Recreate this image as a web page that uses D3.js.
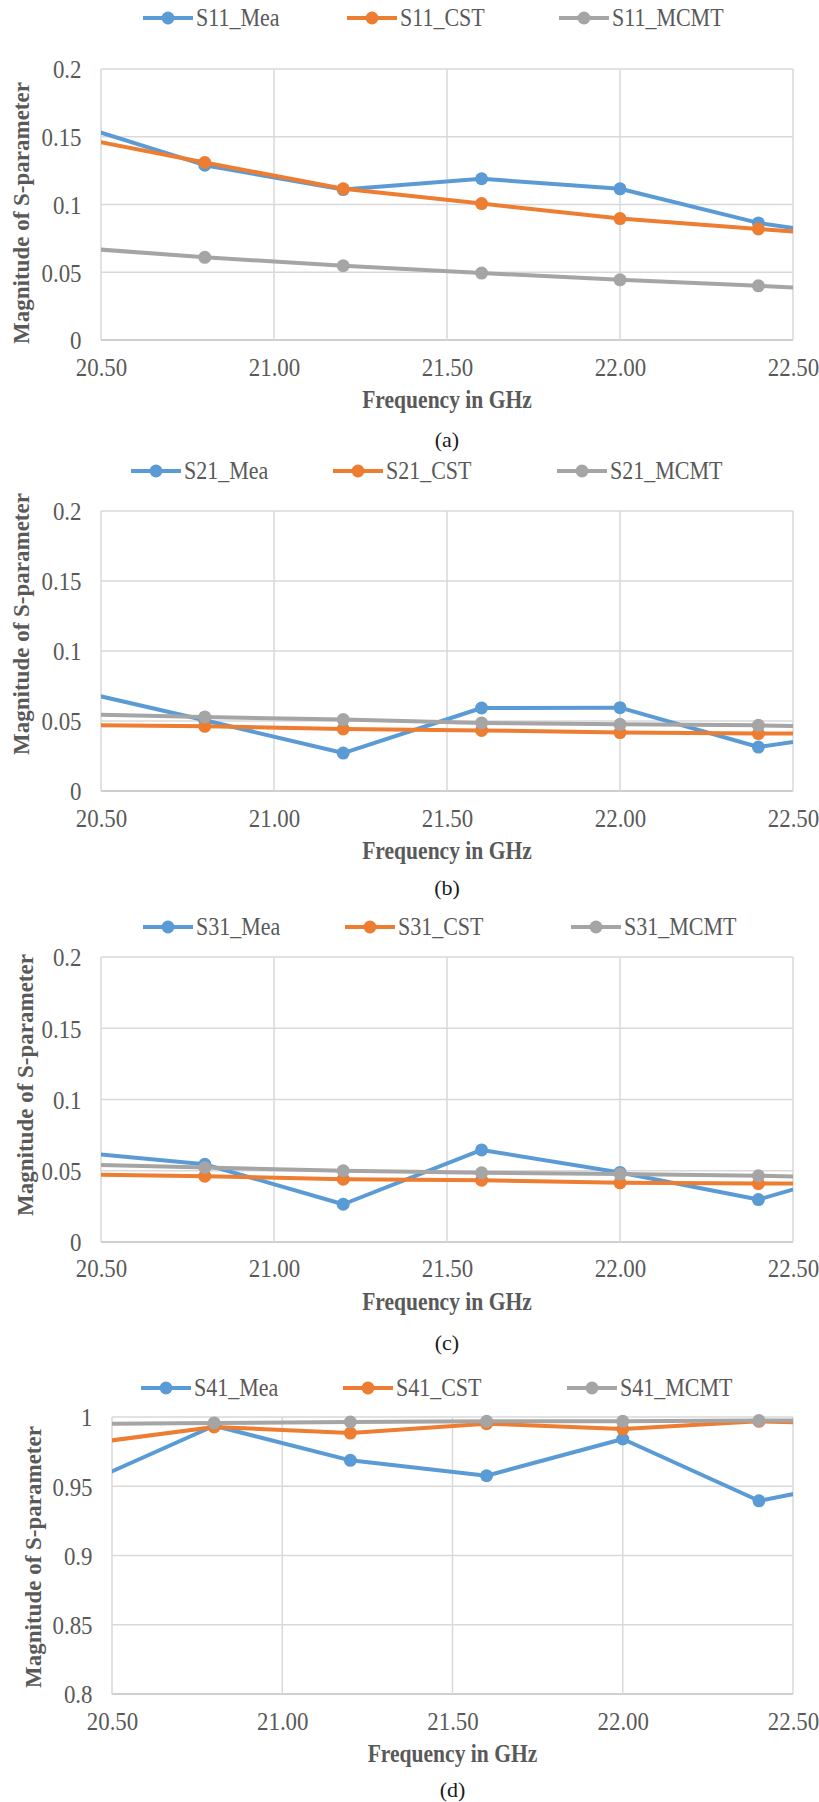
<!DOCTYPE html>
<html>
  <head>
    <meta charset="utf-8">
    <script src="https://d3js.org/d3.v7.min.js"></script>
    <style>
      body { margin: 0; background: #fff; }
      svg { display: block; }
    </style>
  </head>
  <body>
    <script type="text/javascript">

      // frequency points (GHz). first and last fall outside the axis and get clipped
      var freq = [20.4, 20.8, 21.2, 21.6, 22.0, 22.4, 22.8];
      var xTicks = [20.5, 21.0, 21.5, 22.0, 22.5];
      var yTicksLow = [0, 0.05, 0.1, 0.15, 0.2];
      var yTicksS41 = [0.8, 0.85, 0.9, 0.95, 1];
      var seriesNames = ["Mea", "CST", "MCMT"];
      var captions = ["(a)", "(b)", "(c)", "(d)"];
      var params = ["S11", "S21", "S31", "S41"];

      var s11Mea  = [0.161, 0.129, 0.111, 0.119, 0.1116, 0.0864, 0.0716];
      var s11Cst  = [0.151, 0.131, 0.1116, 0.1007, 0.0896, 0.082, 0.074];
      var s11Mcmt = [0.0686, 0.061, 0.0548, 0.0494, 0.0444, 0.040, 0.0352];

      var s21Mea  = [0.0733, 0.0505, 0.0271, 0.0593, 0.0595, 0.0314, 0.0458];
      var s21Cst  = [0.0472, 0.0462, 0.0443, 0.0433, 0.0417, 0.041, 0.041];
      var s21Mcmt = [0.055, 0.0529, 0.051, 0.0486, 0.0476, 0.0469, 0.0449];

      var s31Mea  = [0.0638, 0.0545, 0.0265, 0.0646, 0.0488, 0.0298, 0.058];
      var s31Cst  = [0.0475, 0.0462, 0.0441, 0.0434, 0.0415, 0.041, 0.041];
      var s31Mcmt = [0.0546, 0.0523, 0.050, 0.0486, 0.0477, 0.0465, 0.0445];

      var s41Mea  = [0.9497, 0.9937, 0.9687, 0.9576, 0.9841, 0.9395, 0.9587];
      var s41Cst  = [0.9799, 0.9928, 0.9884, 0.9952, 0.9913, 0.9969, 0.9941];
      var s41Mcmt = [0.995, 0.9957, 0.9964, 0.9969, 0.9969, 0.9974, 0.9974];

      var colors = ["#5b9bd5", "#ed7d31", "#a5a5a5"];

      // layout of each panel on the page
      var panels = [
        {values: [s11Mea, s11Cst, s11Mcmt], yTicks: yTicksLow,
         l: 101, r: 793, t: 69, b: 340, legY: 18, legX: [168, 372, 584],
         tickY: 367, xTitleY: 401, capY: 440, yTitleX: 21, yTitleY: 213},
        {values: [s21Mea, s21Cst, s21Mcmt], yTicks: yTicksLow,
         l: 101, r: 793, t: 511, b: 791, legY: 471, legX: [156, 358, 582],
         tickY: 818, xTitleY: 852, capY: 888, yTitleX: 21, yTitleY: 624},
        {values: [s31Mea, s31Cst, s31Mcmt], yTicks: yTicksLow,
         l: 101, r: 793, t: 957, b: 1242, legY: 927, legX: [168, 370, 596],
         tickY: 1268, xTitleY: 1303, capY: 1343, yTitleX: 25, yTitleY: 1085},
        {values: [s41Mea, s41Cst, s41Mcmt], yTicks: yTicksS41,
         l: 112, r: 793, t: 1417, b: 1694, legY: 1388, legX: [166, 368, 592],
         tickY: 1721, xTitleY: 1755, capY: 1790, yTitleX: 33, yTitleY: 1557}
      ];

      var SX = 0.88;          // the figure's serif text is a bit narrow
      var serif = "'Liberation Serif', 'Times New Roman', serif";
      var textGrey = "#595959";

      var svg = d3.select("body")
        .append("svg")
          .attr("width", 819)
          .attr("height", 1802);

      // puts narrow text with its anchor at (x, y)
      function narrowText(g, x, y, str) {
        return g.append("text")
          .attr("x", x / SX)
          .attr("y", y)
          .attr("transform", "scale(" + SX + ",1)")
          .text(str);
      }

      panels.forEach(function(p, pi) {
        var g = svg.append("g");

        var x = d3.scaleLinear().domain([20.5, 22.5]).range([p.l, p.r]);
        var y = d3.scaleLinear()
          .domain([p.yTicks[0], p.yTicks[p.yTicks.length - 1]])
          .range([p.b, p.t]);

        // grid
        g.append("g").selectAll("line.h")
          .data(p.yTicks)
          .enter().append("line")
            .attr("x1", p.l).attr("x2", p.r)
            .attr("y1", function(d) { return y(d); })
            .attr("y2", function(d) { return y(d); })
            .attr("stroke", function(d, i) { return i === 0 ? "#bfbfbf" : "#d9d9d9"; })
            .attr("stroke-width", 1.5);
        g.append("g").selectAll("line.v")
          .data(xTicks)
          .enter().append("line")
            .attr("y1", p.t).attr("y2", p.b)
            .attr("x1", function(d) { return x(d); })
            .attr("x2", function(d) { return x(d); })
            .attr("stroke", "#d9d9d9")
            .attr("stroke-width", 1.5);

        // axes, only for the tick labels
        var xAxis = g.append("g")
          .attr("transform", "translate(0," + p.tickY + ")")
          .call(d3.axisBottom(x).tickValues(xTicks).tickFormat(d3.format(".2f")).tickSize(0).tickPadding(0));
        var yAxis = g.append("g")
          .attr("transform", "translate(" + (p.l - 19.5) + ",0)")
          .call(d3.axisLeft(y).tickValues(p.yTicks).tickFormat(function(d) { return String(+d.toFixed(2)); }).tickSize(0).tickPadding(0));
        [xAxis, yAxis].forEach(function(ax) {
          ax.select(".domain").remove();
          ax.selectAll("text")
            .attr("font-family", serif)
            .attr("font-size", "26px")
            .attr("fill", textGrey)
            .attr("dy", "0.34em")
            .attr("x", 0)
            .attr("y", 0)
            .attr("transform", "scale(" + SX + ",1)");
        });

        // series, clipped to the plot box
        var clipId = "clip" + pi;
        g.append("clipPath").attr("id", clipId)
          .append("rect")
            .attr("x", p.l).attr("y", p.t - 8)
            .attr("width", p.r - p.l).attr("height", p.b - p.t + 16);

        var line = d3.line()
          .x(function(d, i) { return x(freq[i]); })
          .y(function(d) { return y(d); });

        var plot = g.append("g").attr("clip-path", "url(#" + clipId + ")");
        p.values.forEach(function(vals, si) {
          plot.append("path")
            .attr("d", line(vals))
            .attr("fill", "none")
            .attr("stroke", colors[si])
            .attr("stroke-width", 4)
            .attr("stroke-linejoin", "round");
          plot.selectAll("circle.s" + si)
            .data(vals)
            .enter().append("circle")
              .attr("cx", function(d, i) { return x(freq[i]); })
              .attr("cy", function(d) { return y(d); })
              .attr("r", 6.5)
              .attr("fill", colors[si]);
        });

        // legend
        seriesNames.forEach(function(name, si) {
          var cx = p.legX[si];
          g.append("line")
            .attr("x1", cx - 25).attr("x2", cx + 25)
            .attr("y1", p.legY).attr("y2", p.legY)
            .attr("stroke", colors[si])
            .attr("stroke-width", 4);
          g.append("circle")
            .attr("cx", cx).attr("cy", p.legY).attr("r", 6.5)
            .attr("fill", colors[si]);
          narrowText(g, cx + 28, p.legY, params[pi] + "_" + name)
            .attr("dy", "0.34em")
            .attr("font-family", serif)
            .attr("font-size", "25px")
            .attr("fill", textGrey);
        });

        // axis titles
        narrowText(g, (p.l + p.r) / 2, p.xTitleY, "Frequency in GHz")
          .attr("dy", "0.3em")
          .attr("text-anchor", "middle")
          .attr("font-family", serif)
          .attr("font-weight", "bold")
          .attr("font-size", "24.5px")
          .attr("fill", textGrey);

        g.append("text")
          .attr("transform", "translate(" + p.yTitleX + "," + p.yTitleY + ") rotate(-90)")
          .attr("dy", "0.34em")
          .attr("text-anchor", "middle")
          .attr("font-family", serif)
          .attr("font-weight", "bold")
          .attr("font-size", "23px")
          .attr("fill", textGrey)
          .text("Magnitude of S-parameter");

        // caption under the chart
        g.append("text")
          .attr("x", (p.l + p.r) / 2)
          .attr("y", p.capY)
          .attr("dy", "0.3em")
          .attr("text-anchor", "middle")
          .attr("font-family", serif)
          .attr("font-size", "22px")
          .attr("fill", "#1a1a1a")
          .text(captions[pi]);
      });

    </script>
  </body>
</html>
